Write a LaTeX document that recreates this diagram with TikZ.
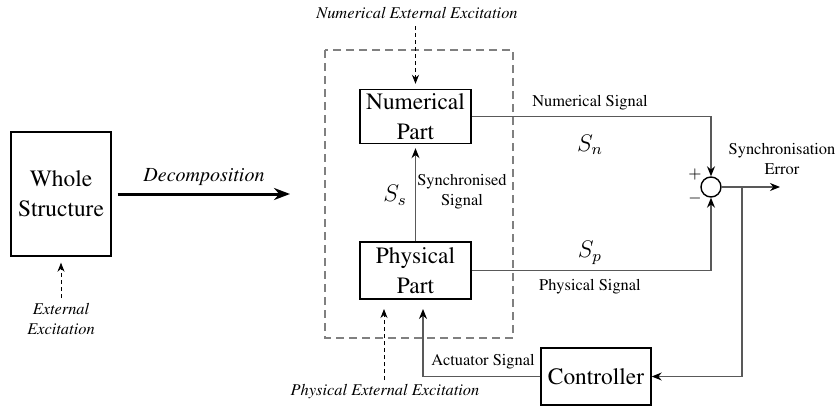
\documentclass[tikz,border=0pt]{standalone}
\usepackage[T1]{fontenc}
\renewcommand{\rmdefault}{ptm}
\usetikzlibrary{arrows.meta}

\tikzset{
  block/.style={draw, line width=0.7pt, align=center, inner sep=0pt,
    minimum width=55.5pt, minimum height=27pt,
    font=\fontsize{11.7}{15}\selectfont},
  lbl/.style={align=center, inner sep=0pt, font=\fontsize{8.2}{10}\selectfont},
  ilbl/.style={lbl, font=\fontsize{8.2}{10}\selectfont\itshape},
  sig/.style={draw=black!65, line width=0.6pt, -{Stealth[black,length=5pt,width=4pt]}},
  exc/.style={draw, dashed, dash pattern=on 2pt off 1.5pt, line width=0.4pt,
    -{Stealth[length=4.5pt,width=3.5pt]}}
}

\begin{document}
\begin{tikzpicture}[x=0.5pt,y=-0.5pt]
\useasboundingbox (0,0) rectangle (837,407);

% Blocks
\node[block, minimum width=50pt, minimum height=62pt] (whole) at (61,194) {Whole\\Structure};
\node[block] (num) at (415.5,116.5) {Numerical\\Part};
\node[block, minimum height=28.5pt] (phys) at (415.5,270.5) {Physical\\Part};
\node[block, minimum width=55pt, minimum height=28.5pt] (ctrl) at (596,376.5) {Controller};
\node[draw, circle, line width=0.7pt, minimum size=10pt, inner sep=0pt] (sum) at (711,187) {};

% Dashed frame round the two parts
\draw[black!50, line width=1pt, dash pattern=on 4pt off 2.5pt] (325,50) rectangle (513,338);

% Decomposition
\coordinate (dec) at (290,194);
\draw[line width=1.5pt, -{Stealth[length=8pt,width=6pt]}, shorten <=3pt] (whole.east) -- (dec);
\node[font=\fontsize{10}{12}\selectfont\itshape] (declab) at (204,177) {Decomposition};

% External excitations
\node[ilbl] (extlab) at (61,319) {External\\Excitation};
\coordinate (ext) at (61,298);
\draw[exc, shorten >=3pt] (ext) -- (whole.south);

\node[ilbl] (numexc) at (417,13) {Numerical External Excitation};
\coordinate (numext) at (415.5,26);
\draw[exc, shorten >=2.5pt] (numext) -- (num.north);

\node[ilbl] (physexc) at (385,392) {Physical External Excitation};
\coordinate (physext) at (384,380);
\coordinate (physin) at (384,309);
\draw[exc] (physext) -- (physin);

% Synchronised signal
\draw[sig, shorten >=2pt] (phys.north) -- (num.south);
\node[font=\fontsize{11.7}{14}\selectfont] (ss) at (395,195) {$S_s$};
\node[lbl] (synclab) at (462,192) {Synchronised\\Signal};

% Signals to the comparison
\draw[sig] (num.east) -| (sum.north);
\draw[sig] (phys.east) -| (sum.south);
\node[lbl] (numsig) at (590,103) {Numerical Signal};
\node[font=\fontsize{11.7}{14}\selectfont] (sn) at (590,145) {$S_n$};
\node[font=\fontsize{11.7}{14}\selectfont] (sp) at (590,253) {$S_p$};
\node[lbl] (physsig) at (590,287) {Physical Signal};
\node[lbl] (plus) at (695,174) {$+$};
\node[lbl] (minus) at (695,198) {$-$};

% Error and feedback
\coordinate (out) at (780,187);
\coordinate (br) at (742,187);
\draw[sig] (sum.east) -- (out);
\node[lbl] (errlab) at (782,159) {Synchronisation\\Error};
\draw[sig] (br) |- (ctrl.east);

% Actuator signal
\coordinate (act) at (423,309);
\draw[sig] (ctrl.west) -| (act);
\node[lbl] (actlab) at (483,362) {Actuator Signal};

\end{tikzpicture}
\end{document}
